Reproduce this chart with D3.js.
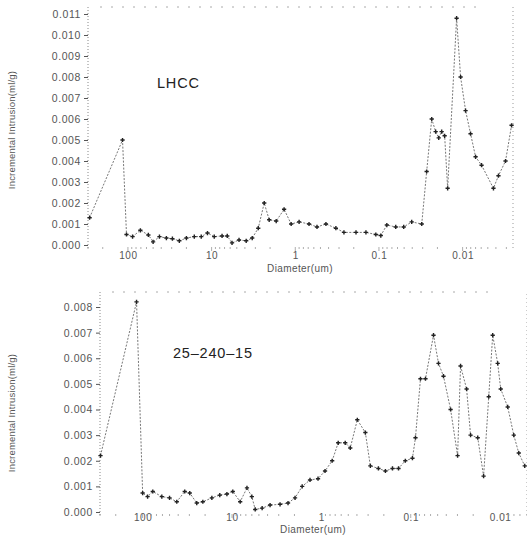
<!DOCTYPE html>
<html>
<head>
<meta charset="utf-8">
<script src="https://cdn.jsdelivr.net/npm/d3@7"></script>
<style>
  body { margin: 0; background: #fff; }
  svg { display: block; }
  text { font-family: "Liberation Sans", Arial, sans-serif; fill: #555; }
</style>
</head>
<body>
<div id="chart"></div>
<script>
// diameters in um, incremental intrusion in ml/g
const lhccDiameter = [287, 116, 104, 88, 71, 57, 50, 42, 34.7, 29.4, 24.3, 20, 16.1, 13.3, 11.2, 9.3, 7.5, 6.5, 5.7, 4.7,
  3.86, 3.27, 2.77, 2.35, 2.05, 1.69, 1.36, 1.12, 0.9, 0.685, 0.55, 0.43, 0.327, 0.262, 0.188, 0.143, 0.109, 0.095, 0.0805, 0.063,
  0.0506, 0.0406, 0.0308, 0.0269, 0.0234, 0.021, 0.0193, 0.0178, 0.0164, 0.0151, 0.0118, 0.01057, 0.00922, 0.00804, 0.007,
  0.00594, 0.00428, 0.00373, 0.00307, 0.0026];
const lhccValue = [0.0013, 0.0050, 0.0005, 0.0004, 0.0007, 0.00048, 0.00015, 0.0004, 0.00033, 0.0003, 0.0002, 0.00033, 0.0004, 0.0004, 0.00057, 0.0004, 0.00043, 0.00043, 0.0001, 0.00024,
  0.0002, 0.00033, 0.0008, 0.0020, 0.0012, 0.00114, 0.0017, 0.0010, 0.0011, 0.0010, 0.00086, 0.0010, 0.0008, 0.0006, 0.0006, 0.0006, 0.0005, 0.00045, 0.00095, 0.00086,
  0.00086, 0.0011, 0.0010, 0.0035, 0.0060, 0.0054, 0.0051, 0.0054, 0.0052, 0.0027, 0.0108, 0.0080, 0.0064, 0.0053, 0.0042,
  0.0038, 0.0027, 0.0033, 0.0040, 0.0057];

const s25Diameter = [296, 117, 100, 88, 77, 61, 50, 41.5, 33.8, 29.7, 24.8, 21.2, 16.8, 13.7, 11.4, 9.8, 8.1, 6.8, 6.0, 5.5,
  4.6, 3.75, 2.9, 2.36, 1.97, 1.64, 1.34, 1.09, 0.91, 0.757, 0.648, 0.541, 0.475, 0.396, 0.322, 0.283, 0.23, 0.192, 0.16, 0.137,
  0.115, 0.0957, 0.0885, 0.0778, 0.0684, 0.0556, 0.0489, 0.043, 0.0358, 0.0299, 0.0277, 0.0237, 0.0214, 0.0178, 0.0153,
  0.0134, 0.0121, 0.01064, 0.00984, 0.00822, 0.00703, 0.00618, 0.0053];
const s25Value = [0.0022, 0.0082, 0.00074, 0.0006, 0.0008, 0.0006, 0.00055, 0.0004, 0.0008, 0.00074, 0.00035, 0.0004, 0.00055, 0.00066, 0.0007, 0.0008, 0.0004, 0.00094, 0.0006, 0.0001,
  0.00015, 0.00027, 0.0003, 0.00035, 0.00055, 0.0010, 0.00125, 0.0013, 0.0016, 0.0020, 0.0027, 0.0027, 0.0025, 0.0036, 0.0031, 0.0018, 0.0017, 0.0016, 0.0017, 0.0017,
  0.0020, 0.0021, 0.0029, 0.0052, 0.0052, 0.0069, 0.0058, 0.0053, 0.0040, 0.0022, 0.0057, 0.0048, 0.0030, 0.0029, 0.0014,
  0.0045, 0.0069, 0.0058, 0.0048, 0.0041, 0.0030, 0.0023, 0.0018];

const xTickValues = [100, 10, 1, 0.1, 0.01];
const xTickLabels = ["100", "10", "1", "0.1", "0.01"];
const topYTicks = [0, 0.001, 0.002, 0.003, 0.004, 0.005, 0.006, 0.007, 0.008, 0.009, 0.010, 0.011];
const bottomYTicks = [0, 0.001, 0.002, 0.003, 0.004, 0.005, 0.006, 0.007, 0.008];

const W = 527, H = 541;
const svg = d3.select("#chart").append("svg").attr("width", W).attr("height", H);

const panels = [
  { name: "LHCC", dia: lhccDiameter, val: lhccValue, xDom: [300, 0.0025], xRange: [88, 513],
    yMax: 0.011, yRange: [245, 14], yTicks: topYTicks, frameTop: 7, label: [157, 88], titleY: 130,
    xLabelY: 259, xTitleX: 300, xTitleY: 272 },
  { name: "25\u2013240\u201315", dia: s25Diameter, val: s25Value, xDom: [300, 0.005], xRange: [100, 527],
    yMax: 0.008, yRange: [512, 307], yTicks: bottomYTicks, frameTop: 292, label: [173, 358], titleY: 413,
    xLabelY: 521, xTitleX: 313, xTitleY: 533 }
];

const fmt = d3.format(".3f");

panels.forEach(p => {
  const x = d3.scaleLog().domain(p.xDom).range(p.xRange);
  const y = d3.scaleLinear().domain([0, p.yMax]).range(p.yRange);
  const g = svg.append("g");
  const x0 = p.xRange[0], x1 = p.xRange[1];
  const yb = p.yRange[0];

  // dotted frame (left, top, right)
  g.append("line").attr("x1", x0).attr("x2", x0).attr("y1", yb + 3).attr("y2", p.frameTop)
    .attr("stroke", "#888").attr("stroke-width", 1).attr("stroke-dasharray", "1,2");
  g.append("line").attr("x1", x0 + 12).attr("x2", x1 - 30).attr("y1", p.frameTop).attr("y2", p.frameTop)
    .attr("stroke", "#aaa").attr("stroke-width", 1).attr("stroke-dasharray", "2,9");
  g.append("line").attr("x1", x1).attr("x2", x1).attr("y1", yb + 3).attr("y2", p.frameTop)
    .attr("stroke", "#999").attr("stroke-width", 1).attr("stroke-dasharray", "1,3");

  // y axis
  const yAxis = d3.axisLeft(y).tickValues(p.yTicks).tickFormat(fmt).tickSize(4).tickPadding(3);
  const ya = g.append("g").attr("transform", `translate(${x0},0)`).call(yAxis);
  ya.select(".domain").remove();
  ya.selectAll(".tick line").attr("stroke", "#555");
  ya.selectAll(".tick text").attr("font-size", 10.5).attr("letter-spacing", 0.6).style("fill", "#555");

  // x axis labels (reversed log)
  const xAxis = d3.axisBottom(x).tickValues(xTickValues)
    .tickFormat((d, i) => xTickLabels[i]).tickSize(0).tickPadding(0);
  const xa = g.append("g").attr("transform", `translate(0,${p.xLabelY})`).call(xAxis);
  xa.select(".domain").remove();
  xa.selectAll(".tick text").attr("dy", null).attr("font-size", 10).attr("letter-spacing", 0.6).style("fill", "#555");

  // minor ticks along the baseline
  const minors = [];
  for (let e = -3; e <= 2; e++) {
    for (let m = 1; m <= 9; m++) {
      const v = m * Math.pow(10, e);
      if (v <= p.xDom[0] && v >= p.xDom[1]) minors.push(v);
    }
  }
  g.append("g").selectAll("line").data(minors).join("line")
    .attr("x1", d => x(d)).attr("x2", d => x(d))
    .attr("y1", yb + 2).attr("y2", d => yb + (m1(d) ? 6 : 4))
    .attr("stroke", "#999").attr("stroke-width", 0.8);

  // titles
  g.append("text").attr("x", p.xTitleX).attr("y", p.xTitleY)
    .attr("text-anchor", "middle").attr("font-size", 10).attr("letter-spacing", 0.4)
    .text("Diameter(um)");
  g.append("text").attr("transform", `translate(15,${p.titleY}) rotate(-90)`)
    .attr("text-anchor", "middle").attr("font-size", 9.5).attr("letter-spacing", 0.2)
    .text("Incremental Intrusion(ml/g)");
  g.append("text").attr("x", p.label[0]).attr("y", p.label[1])
    .attr("font-size", 14.5).attr("letter-spacing", 0.8).style("fill", "#222")
    .text(p.name);

  // data
  const pts = p.dia.map((d, i) => [d, p.val[i]]);
  const line = d3.line().x(d => x(d[0])).y(d => y(d[1]));
  g.append("path").datum(pts).attr("d", line)
    .attr("fill", "none").attr("stroke", "#777").attr("stroke-width", 1)
    .attr("stroke-dasharray", "2,1.5");
  g.append("g").selectAll("path").data(pts).join("path")
    .attr("d", d3.symbol(d3.symbolCross, 10))
    .attr("transform", d => `translate(${x(d[0])},${y(d[1])})`)
    .attr("fill", "#222");
});

function m1(v) {
  const l = Math.log10(v);
  return Math.abs(l - Math.round(l)) < 1e-9;
}
</script>
</body>
</html>
